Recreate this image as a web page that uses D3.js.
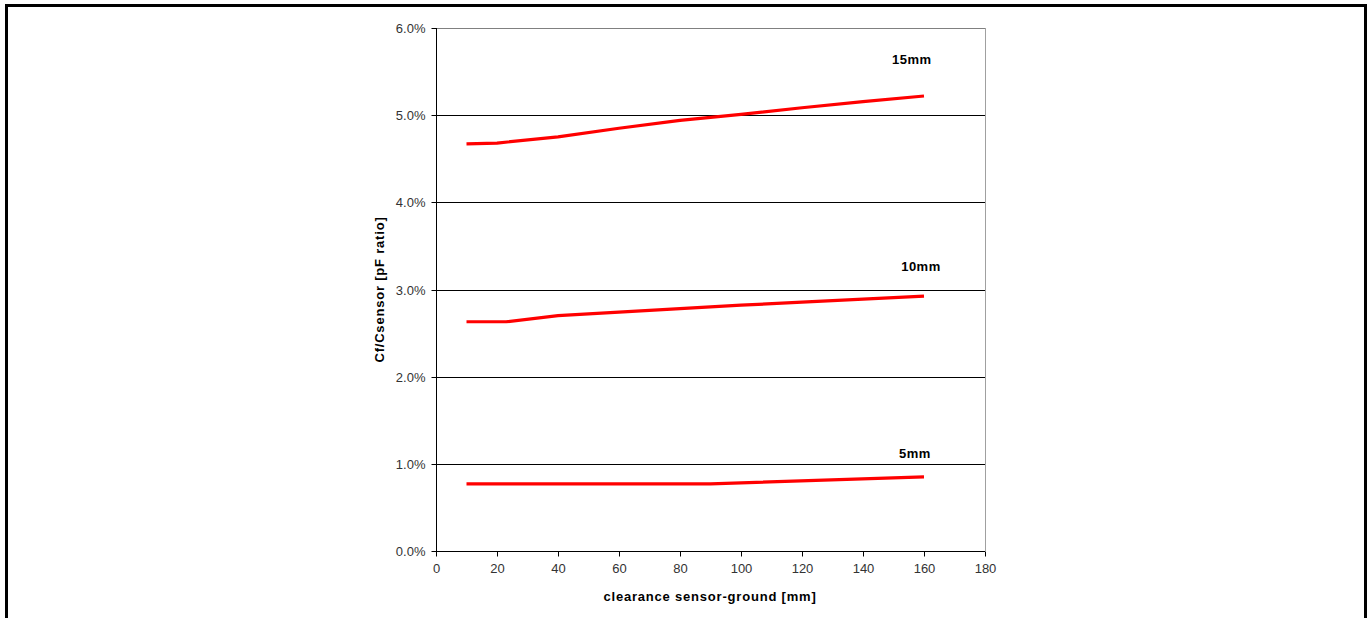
<!DOCTYPE html>
<html>
<head>
<meta charset="utf-8">
<script src="https://cdn.jsdelivr.net/npm/d3@7"></script>
<style>
  html, body { margin: 0; padding: 0; background: #fff; overflow: hidden; }
  svg { display: block; }
  text { font-family: Arial, "Liberation Sans", sans-serif; }
</style>
</head>
<body>
<svg id="chart" width="1370" height="618"></svg>
<script>
// ---- data ----
const xTicks = [0, 20, 40, 60, 80, 100, 120, 140, 160, 180];
const yTicks = [0, 1, 2, 3, 4, 5, 6];            // percent
const seriesNames = ["15mm", "10mm", "5mm"];
const x15 = [10, 20, 40, 60, 80, 100, 120, 140, 160];
const y15 = [4.67, 4.68, 4.75, 4.85, 4.94, 5.01, 5.085, 5.155, 5.22];
const x10 = [10, 23, 40, 60, 80, 100, 120, 140, 160];
const y10 = [2.63, 2.63, 2.70, 2.74, 2.78, 2.82, 2.855, 2.89, 2.925];
const x5 = [10, 90, 160];
const y5 = [0.77, 0.77, 0.85];
const labelX = [156, 159, 157];      // label anchor in data units
const labelY = [5.64, 3.27, 1.12];
const xTitle = "clearance sensor-ground [mm]";
const yTitle = "Cf/Csensor [pF ratio]";

const series = [
  { name: seriesNames[0], xs: x15, ys: y15 },
  { name: seriesNames[1], xs: x10, ys: y10 },
  { name: seriesNames[2], xs: x5, ys: y5 }
];

// ---- layout ----
const svg = d3.select("#chart");
const pL = 436, pR = 985, pT = 28, pB = 551;

const x = d3.scaleLinear().domain([0, 180]).range([pL, pR]);
const y = d3.scaleLinear().domain([0, 6]).range([pB, pT]);

// outer frame
svg.append("rect")
  .attr("x", 6.5).attr("y", 5.5)
  .attr("width", 1359).attr("height", 700)
  .attr("fill", "none").attr("stroke", "#000").attr("stroke-width", 3);

// gridlines
svg.append("g").selectAll("line")
  .data(yTicks.filter(d => d > 0))
  .join("line")
  .attr("x1", pL).attr("x2", pR)
  .attr("y1", d => Math.round(y(d)) + 0.5).attr("y2", d => Math.round(y(d)) + 0.5)
  .attr("stroke", d => d === 6 ? "#808080" : "#000")
  .attr("stroke-width", 1);

// right plot border
svg.append("line")
  .attr("x1", Math.round(pR) + 0.5).attr("x2", Math.round(pR) + 0.5)
  .attr("y1", pT).attr("y2", pB)
  .attr("stroke", "#a0a0a0").attr("stroke-width", 1);

// y axis
const yAxis = svg.append("g")
  .attr("transform", `translate(${pL + 0.5},0)`)
  .call(d3.axisLeft(y).tickValues(yTicks).tickSize(5).tickPadding(6)
    .tickFormat(d => d.toFixed(1) + "%"));
yAxis.select(".domain").attr("stroke", "#000").attr("d", `M0,${pT}V${pB}`);
yAxis.selectAll(".tick line").attr("stroke", "#000");
yAxis.selectAll(".tick text")
  .attr("font-size", 13).attr("fill", "#333")
  .attr("font-family", "Arial, 'Liberation Sans', sans-serif");
yAxis.selectAll(".tick").attr("transform", d => `translate(0,${Math.round(y(d)) + 0.5})`);

// x axis
const xAxis = svg.append("g")
  .attr("transform", `translate(0,${pB + 0.5})`)
  .call(d3.axisBottom(x).tickValues(xTicks).tickSize(5).tickPadding(7)
    .tickFormat(d3.format("d")));
xAxis.select(".domain").attr("stroke", "#000").attr("d", `M${pL},0H${pR}`);
xAxis.selectAll(".tick line").attr("stroke", "#000");
xAxis.selectAll(".tick text")
  .attr("font-size", 13).attr("fill", "#333")
  .attr("font-family", "Arial, 'Liberation Sans', sans-serif");

// lines
const line = d3.line().x(d => x(d[0])).y(d => y(d[1]));
svg.append("g").selectAll("path")
  .data(series)
  .join("path")
  .attr("d", s => line(s.xs.map((v, i) => [v, s.ys[i]])))
  .attr("fill", "none")
  .attr("stroke", "#ff0000")
  .attr("stroke-width", 3.2)
  .attr("stroke-linejoin", "round");

// series labels
svg.append("g").selectAll("text")
  .data(series)
  .join("text")
  .attr("x", (s, i) => x(labelX[i]))
  .attr("y", (s, i) => y(labelY[i]))
  .attr("dy", "0.35em")
  .attr("text-anchor", "middle")
  .attr("font-size", 13).attr("font-weight", "bold")
  .attr("letter-spacing", 0.5)
  .attr("fill", "#000")
  .text(s => s.name);

// axis titles
svg.append("text")
  .attr("x", (pL + pR) / 2 - 0.5)
  .attr("y", 596)
  .attr("dy", "0.35em")
  .attr("text-anchor", "middle")
  .attr("font-size", 13).attr("font-weight", "bold")
  .attr("letter-spacing", 0.8)
  .attr("fill", "#000")
  .text(xTitle);

svg.append("text")
  .attr("transform", `translate(379,${(pT + pB) / 2}) rotate(-90)`)
  .attr("dy", "0.35em")
  .attr("text-anchor", "middle")
  .attr("font-size", 13).attr("font-weight", "bold")
  .attr("letter-spacing", 0.8)
  .attr("fill", "#000")
  .text(yTitle);
</script>
</body>
</html>
